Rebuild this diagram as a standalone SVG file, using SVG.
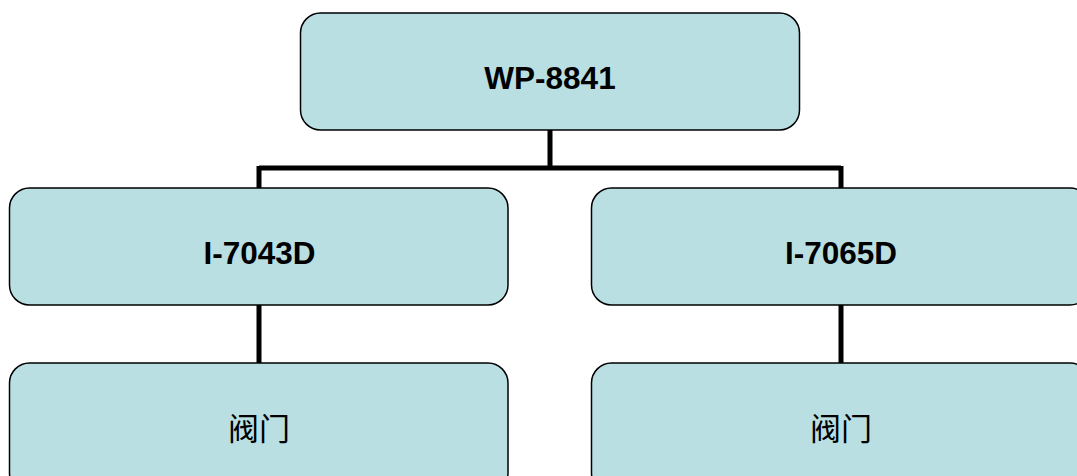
<svg xmlns="http://www.w3.org/2000/svg" width="1077" height="476" viewBox="0 0 1077 476">
<style>
.box{fill:#B9DFE3;stroke:#000;stroke-width:1.5}
.lbl{font-family:"Liberation Sans",Arial,sans-serif;font-weight:bold;font-size:31.5px;text-anchor:middle;fill:#000}
.cjk{font-family:"Liberation Serif","Noto Sans CJK SC",serif;font-size:31px;text-anchor:middle;fill:#000}
.conn{fill:none;stroke:#000;stroke-width:5}
</style>
<rect width="1077" height="476" fill="#fff"/>
<g id="connectors">
<path class="conn" d="M550 130 V168 M259 168 H841 M259 166 V189 M841 166 V189"/>
<path class="conn" d="M259 305 V364"/>
<path class="conn" d="M841 305 V364"/>
</g>
<g id="n-wp8841">
<rect class="box" x="300.5" y="13" width="499" height="117" rx="20"/>
<text class="lbl" x="550" y="88.5">WP-8841</text>
</g>
<g id="n-i7043d">
<rect class="box" x="9.5" y="188" width="498.5" height="117" rx="20"/>
<text class="lbl" x="259.5" y="263.5">I-7043D</text>
</g>
<g id="n-i7065d">
<rect class="box" x="591.5" y="188" width="498.5" height="117" rx="20"/>
<text class="lbl" x="841" y="263.5">I-7065D</text>
</g>
<g id="n-valve1">
<rect class="box" x="9.5" y="363" width="498.5" height="130" rx="20"/>
<text class="cjk" x="259" y="440">阀门</text>
</g>
<g id="n-valve2">
<rect class="box" x="591.5" y="363" width="498.5" height="130" rx="20"/>
<text class="cjk" x="841" y="440">阀门</text>
</g>
</svg>
